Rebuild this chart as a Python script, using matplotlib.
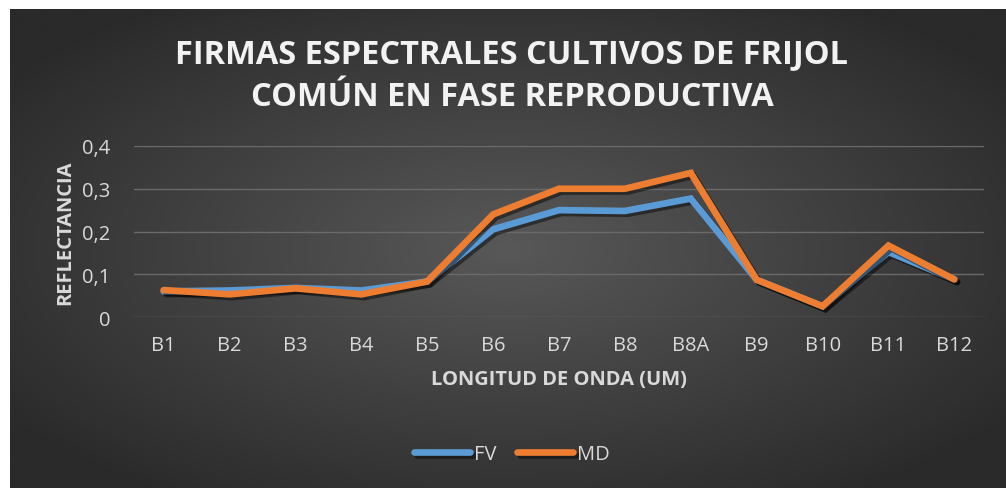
import numpy as np
import matplotlib.pyplot as plt
import matplotlib.patheffects as pe

bands = ["B1", "B2", "B3", "B4", "B5", "B6", "B7", "B8", "B8A", "B9", "B10", "B11", "B12"]
fv = [0.060, 0.062, 0.068, 0.062, 0.083, 0.205, 0.250, 0.248, 0.277, 0.087, 0.025, 0.152, 0.088]
md = [0.063, 0.053, 0.067, 0.053, 0.083, 0.240, 0.300, 0.300, 0.337, 0.087, 0.025, 0.167, 0.088]
yticks = [0, 0.1, 0.2, 0.3, 0.4]
ytick_labels = ["0", "0,1", "0,2", "0,3", "0,4"]

W, H = 1006, 489
fig = plt.figure(figsize=(W / 100, H / 100), dpi=100)
fig.patch.set_facecolor("white")

# radial gradient background of the chart area
bg = fig.add_axes([10 / W, 0, (W - 10) / W, (H - 10) / H])
bg.axis("off")
gx, gy = np.meshgrid(np.linspace(-1, 1, 400), np.linspace(-1, 1, 200))
r = np.clip(np.sqrt(gx ** 2 + gy ** 2) / 1.25, 0, 1)
lo, hi = np.array([0x2a, 0x2a, 0x2a]) / 255, np.array([0x58, 0x58, 0x58]) / 255
img = hi[None, None, :] * (1 - r[..., None]) + lo[None, None, :] * r[..., None]
bg.imshow(img, aspect="auto", extent=[0, 1, 0, 1])
bg.set_xlim(0, 1)
bg.set_ylim(0, 1)

txt = "#D9D9D9"
fig.text(512 / W, 1 - 55 / H, "FIRMAS ESPECTRALES CULTIVOS DE FRIJOL", ha="center", va="center",
         color="#F2F2F2", fontsize=23.5, fontweight="bold", family="Open Sans")
fig.text(512 / W, 1 - 97 / H, "COMÚN EN FASE REPRODUCTIVA", ha="center", va="center",
         color="#F2F2F2", fontsize=23.5, fontweight="bold", family="Open Sans")

ax = fig.add_axes([134 / W, 1 - 318 / H, (984 - 134) / W, (318 - 147) / H])
ax.patch.set_alpha(0)
x = np.arange(len(bands))
shadow = [pe.SimpleLineShadow(offset=(2, -2), shadow_color="black", alpha=0.45), pe.Normal()]
ax.plot(x, fv, color="#5B9BD5", lw=4.8, solid_joinstyle="miter", solid_capstyle="round",
        label="FV", path_effects=shadow, zorder=3)
ax.plot(x, md, color="#ED7D31", lw=4.8, solid_joinstyle="miter", solid_capstyle="round",
        label="MD", path_effects=shadow, zorder=4)

ax.set_xlim(-0.45, len(bands) - 1 + 0.45)
ax.set_ylim(0, 0.4)
ax.set_yticks(yticks)
ax.set_yticklabels(ytick_labels)
ax.set_xticks(x)
ax.set_xticklabels(bands)
ax.grid(axis="y", color="#6a6a6a", lw=1)
ax.set_axisbelow(True)
for s in ax.spines.values():
    s.set_visible(False)
ax.tick_params(length=0, colors=txt, labelsize=14.5)
ax.tick_params(axis="x", pad=13)
ax.tick_params(axis="y", pad=17)
for lab in ax.get_xticklabels() + ax.get_yticklabels():
    lab.set_family("Open Sans")

ax.set_ylabel("REFLECTANCIA", color=txt, fontsize=14.5, fontweight="bold", family="Open Sans", labelpad=5)
ax.set_xlabel("LONGITUD DE ONDA (UM)", color=txt, fontsize=14.5, fontweight="bold", family="Open Sans", labelpad=10)

leg = fig.legend(loc="center", bbox_to_anchor=(512 / W, 1 - 455 / H), ncol=2, frameon=False,
                 handlelength=2.8, columnspacing=1.0, handletextpad=0.2,
                 prop={"family": "Open Sans", "size": 14.5})
for t in leg.get_texts():
    t.set_color(txt)

fig.savefig("out.png", dpi=100)
